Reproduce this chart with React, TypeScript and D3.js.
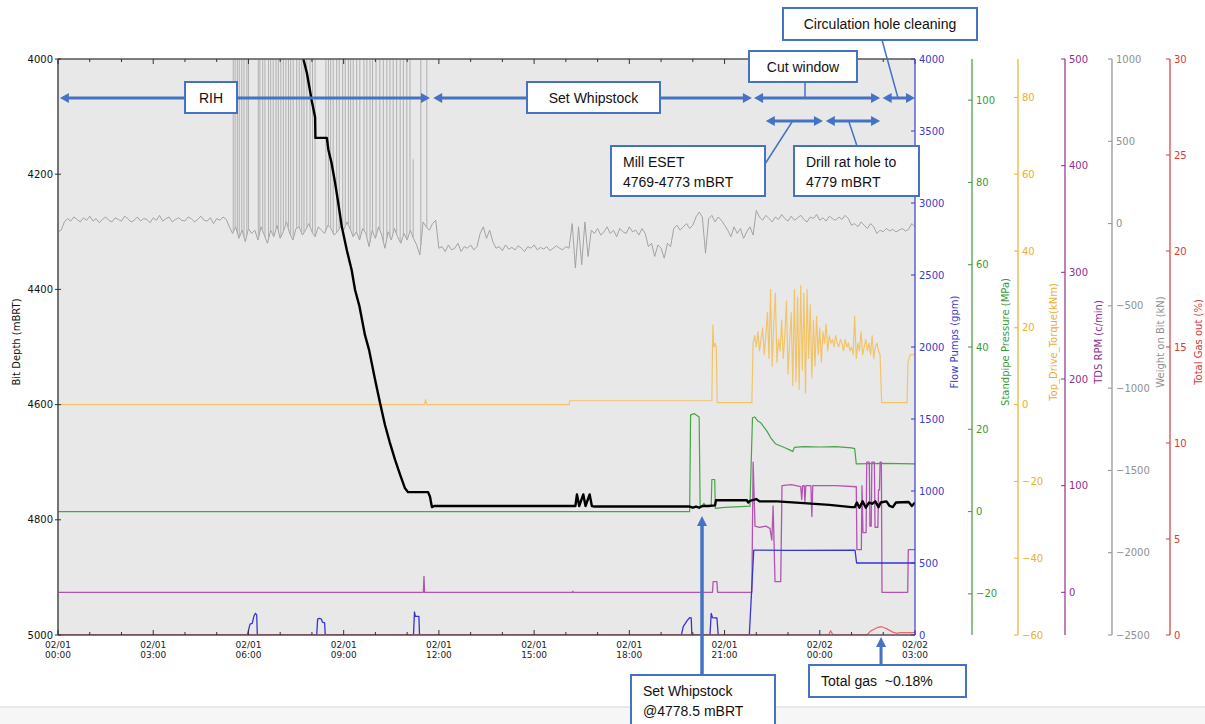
import React from 'react';
import * as d3 from 'd3';

// ---------------- DATA ----------------
const xTickHours = [0, 3, 6, 9, 12, 15, 18, 21, 24, 27];
const xTickDates = ['02/01', '02/01', '02/01', '02/01', '02/01', '02/01', '02/01', '02/01', '02/02', '02/02'];
const xTickTimes = ['00:00', '03:00', '06:00', '09:00', '12:00', '15:00', '18:00', '21:00', '00:00', '03:00'];
const depthTicks = [4000, 4200, 4400, 4600, 4800, 5000];

// Bit depth (mBRT) [hour, depth]
const bitDepth: [number, number][] = [
  [7.6, 3960], [7.73, 4000], [7.84, 4024], [7.99, 4071], [8.10, 4101], [8.11, 4137], [8.47, 4137],
  [8.52, 4158], [8.62, 4181], [8.73, 4215], [8.83, 4250], [8.94, 4291], [9.10, 4332], [9.25, 4366],
  [9.36, 4401], [9.5, 4430], [9.67, 4479], [9.8, 4505], [9.99, 4557], [10.15, 4598], [10.30, 4635],
  [10.45, 4665], [10.62, 4696], [10.78, 4722], [10.93, 4745], [11.03, 4752], [11.66, 4752],
  [11.72, 4760], [11.78, 4778], [11.85, 4776], [16.3, 4776], [16.35, 4756], [16.42, 4776],
  [16.55, 4756], [16.62, 4776], [16.75, 4756], [16.82, 4776], [16.9, 4777], [19.9, 4777],
  [20.0, 4779], [20.1, 4777], [20.2, 4779], [20.3, 4776], [20.5, 4776], [20.7, 4775], [20.73, 4766],
  [21.7, 4766], [21.75, 4770], [21.8, 4767], [22.0, 4764], [22.1, 4768], [22.65, 4768], [23.5, 4771],
  [24.3, 4774], [25.0, 4778], [25.1, 4778], [25.17, 4770], [25.25, 4779], [25.35, 4768], [25.45, 4779],
  [25.55, 4770], [25.65, 4772], [25.75, 4768], [25.85, 4778], [25.92, 4770], [26.1, 4768],
  [26.2, 4776], [26.3, 4778], [26.4, 4770], [26.8, 4769], [26.9, 4776], [27, 4770],
];

// Weight on bit (kN), sampled every 0.1 h from 0
const wobStart = 0;
const wobStep = 0.1;
const wobValues = [
  -50, -40, 10,
  30, 15, 40, 25, 10, 35, 20, 45, 15, 30, 5, 25, 40, 20, 10, 35, 25, 15, 45, 30, 10, 20, 40, 15, 30,
  25, 5, 35, 20, 50, 15, 30, 40, 10, 25, 35, 20, 15, 40, 30, 10, 25, 45, 20, 15, 35, 0, 30, 20, 40, 25, -20,
  -60, -20, -90, -40, -110, -30, -60, -40, -100, -20, -70, -120, -40, -80, -10, -90, -50, 10, -60, -100,
  -30, -20, -70, -40, 0, -50, -80, -20, -40, -60, -10, -30, -70, -50, -20, -40, 10, -30, -80, -50,
  -100, -30, -60, -140, -40, -90, -20, -70, -150, -50, -100, -30, -80, -120, -60, -100, -40, -90, -130, -190, 10, -20,
  -40, 0, 20, -150, -140, -170, -130, -160, -150, -120, -170, -140, -150, -130, -160, -140,
  -60, -20, -90, -40, -110,
  -150, -140, -165, -130, -155, -145, -160, -135, -150, -170, -140, -150, -130, -160, -145, -155, -140, -165, -150, -135, -150, -160, -140, -150,
  0, -270, -20, -250, 10, -200,
  -40, -60, -30, -70, -50, -20, -60, -40, -80, -30, -50, -60, -20, -50, -40, -70, -30, -60,
  -140, -120, -200, -130, -150, -210, -120, -140,
  -30, -10, -40, -20, 0, -30, -10, 40,
  70, 40, -180, 30, 50, 10, 40, 20, -10,
  -40, -80, -20, -60, -30, -90, -50, -20, -70,
  80, 40, 20, 50, 30, 10, 40, 25, 55, 30, 15, 45, 20, 35, 50, 25, 10, 40, 30, 55, 20, 35, 15, 45, 30, 20, 40, 25, 50, 30,
  -10, 0, -20, 10, -10, -30, 0, -20,
  -60, -40, -50, -30, -45, -35, -50, -40, -30, -45, -35, 0, -20,
];
// WOB spikes while tripping: [hour, top value]
const wobSpikes: [number, number][] = [
  [5.52, 1100], [5.58, 1100], [5.65, 1100], [5.71, 1100], [5.79, 1100], [5.86, 1100], [5.95, 1100], [6.0, 1100],
  [6.31, 1100], [6.36, 1100], [6.45, 1100], [6.52, 1100], [6.63, 1100], [6.70, 1100], [6.78, 1100], [6.87, 1100],
  [6.94, 1100], [7.02, 1100], [7.10, 1100], [7.18, 1100], [7.26, 1100], [7.33, 1100], [7.41, 1100], [7.52, 1100],
  [7.60, 1100], [7.68, 1100], [7.75, 1100], [7.84, 1100], [7.94, 1100], [8.02, 1100], [8.10, 1100],
  [8.44, 1100], [8.52, 1100], [8.59, 1100], [8.67, 1100], [8.78, 1100], [8.86, 1100], [8.97, 1100], [9.05, 1100],
  [9.15, 1100], [9.22, 1100], [9.30, 1100], [9.41, 1100], [9.51, 1100],
  [9.64, 1100], [9.73, 1100], [9.83, 1100], [9.91, 1100], [10.02, 1100], [10.14, 1100], [10.25, 1100], [10.36, 1100],
  [10.46, 1100], [10.56, 1100], [10.67, 1100], [10.78, 1100], [10.88, 1100], [10.99, 1100], [11.09, 1100], [11.19, 390],
  [11.43, 1100], [11.62, 1100],
];

// Top drive torque (kNm)
const torqueBefore: [number, number][] = [
  [0, 0], [11.55, 0], [11.58, 1.3], [11.62, 0], [16.1, 0], [16.12, 1], [20.6, 1], [20.63, 20.7],
  [20.66, 15], [20.7, 16], [20.74, 15], [20.77, 0.5], [21.86, 0.5],
];
const torqueNoiseStart = 21.9;
const torqueNoiseStep = 0.05;
const torqueNoise = [
  16, 18, 15, 19, 14, 17, 20, 13, 18, 24, 12, 30, 10, 21, 29, 11, 17, 14, 22, 12, 18, 27, 8, 16, 24, 5,
  30, 6, 28, 4, 31, 9, 29, 3, 30, 12, 26, 7, 22, 10, 23, 13, 20, 11, 19, 16, 21, 14, 18, 16, 17, 15,
  18, 16, 15, 17, 16, 14, 17, 15, 16, 14, 15, 13, 23, 12, 16, 14, 19, 13, 15, 17, 14, 16, 13, 18, 12,
  15, 16, 14, 13,
];
const torqueAfter: [number, number][] = [
  [25.95, 0.5], [26.75, 0.5], [26.78, 11], [26.85, 13], [27, 13],
];

// Standpipe pressure (MPa)
const pressure: [number, number][] = [
  [0, 0], [19.9, 0], [19.93, 23.5], [20.05, 23.8], [20.2, 23], [20.23, 1.5], [20.3, 1.2], [20.35, 2],
  [20.4, 1.3], [20.58, 1.5], [20.6, 7.8], [20.69, 7.8], [20.71, 0.8], [21.0, 1.0], [21.5, 1.2],
  [21.8, 1.3], [21.88, 22.8], [21.95, 23], [22.05, 22], [22.15, 21.5], [22.34, 19.5], [22.45, 18],
  [22.6, 16.5], [22.75, 16], [22.9, 15.5], [23.05, 15], [23.15, 14.6], [23.2, 15.6], [23.5, 15.8],
  [24.0, 15.7], [24.5, 15.8], [25.0, 15.5], [25.1, 15.3], [25.15, 11.6], [26.0, 11.7], [27, 11.6],
];

// Flow pumps (gpm)
const flow: [number, number][] = [
  [0, 0], [5.97, 0], [6.02, 50], [6.05, 75], [6.12, 80], [6.17, 130], [6.22, 150], [6.26, 140], [6.28, 0],
  [8.15, 0], [8.18, 110], [8.23, 115], [8.3, 110], [8.33, 90], [8.4, 85], [8.42, 0],
  [11.2, 0], [11.23, 160], [11.26, 130], [11.37, 130], [11.39, 0],
  [19.64, 0], [19.7, 60], [19.75, 75], [19.82, 100], [19.9, 120], [19.95, 118], [19.97, 0],
  [20.54, 0], [20.58, 150], [20.62, 120], [20.76, 118], [20.8, 0],
  [21.78, 0], [21.92, 590], [23.0, 588], [25.11, 590], [25.16, 500], [27, 500],
];

// TDS RPM (c/min)
const rpm: [number, number][] = [
  [0, 0], [11.51, 0], [11.53, 15], [11.55, 0], [16.2, 0], [16.22, 1], [16.24, 0],
  [20.62, 0], [20.64, 10], [20.76, 10], [20.78, 0], [21.86, 0], [21.9, 122], [21.96, 62],
  [22.1, 61], [22.3, 62], [22.43, 60], [22.49, 49], [22.53, 81], [22.59, 10], [22.77, 10],
  [22.81, 100], [23.1, 101], [23.4, 99], [23.43, 87], [23.46, 100], [23.51, 100], [23.53, 84],
  [23.56, 100], [23.72, 100], [23.75, 71], [23.78, 100], [24.5, 100], [25.15, 99],
  [25.17, 40], [25.31, 40], [25.33, 100], [25.36, 56], [25.46, 56], [25.48, 122], [25.56, 122],
  [25.58, 62], [25.62, 62], [25.64, 122], [25.72, 122], [25.74, 61], [25.83, 61], [25.85, 96],
  [25.88, 96], [25.9, 122], [25.94, 122], [25.96, 0], [26.77, 0], [26.79, 40], [27, 40],
];

// Total gas out (%)
const gas: [number, number][] = [
  [0, 0], [24.28, 0], [24.34, 0.22], [24.42, 0], [25.48, 0], [25.6, 0.2], [25.8, 0.38],
  [25.95, 0.43], [26.1, 0.33], [26.3, 0.15], [26.45, 0.08], [26.5, 0.12], [27, 0.12],
];

// Annotation spans (hours)
const spanRIH = [0.06, 11.72];
const spanWhip = [11.82, 21.86];
const spanCut = [21.93, 25.9];
const spanCirc = [25.98, 27];
const spanMill = [22.3, 24.1];
const spanRat = [24.19, 25.9];
const whipMarkHour = 20.29;
const gasMarkHour = 25.93;

// ---------------- LAYOUT ----------------
const W = 1205, H = 724;
const L = 58, R = 915, T = 59, B = 635;
const AC = '#4472C4';
const FONT = 'DejaVu Sans, sans-serif';
const AFONT = 'Liberation Sans, Arial, sans-serif';

const x = d3.scaleLinear().domain([0, 27]).range([L, R]);
const yDepth = d3.scaleLinear().domain([4000, 5000]).range([T, B]);
const yFlow = d3.scaleLinear().domain([0, 4000]).range([B, T]);
const yPress = d3.scaleLinear().domain([-30, 110]).range([B, T]);
const yTorque = d3.scaleLinear().domain([-60, 90]).range([B, T]);
const yRpm = d3.scaleLinear().domain([-40, 500]).range([B, T]);
const yWob = d3.scaleLinear().domain([-2500, 1000]).range([B, T]);
const yGas = d3.scaleLinear().domain([0, 30]).range([B, T]);

const fmt = d3.format('');

function linePath(data: [number, number][], y: d3.ScaleLinear<number, number>) {
  return d3.line<[number, number]>().x(d => x(d[0])).y(d => y(d[1]))(data) || '';
}

function RightAxis({ ax, scale, ticks, color, label, lx }: any) {
  const [r0, r1] = scale.range();
  return (
    <g>
      <line x1={ax} x2={ax} y1={r1} y2={r0} stroke={color} strokeWidth={1.2} />
      {ticks.map((t: number) => (
        <g key={t}>
          <line x1={ax - 4} x2={ax} y1={scale(t)} y2={scale(t)} stroke={color} strokeWidth={1} />
          <text x={ax + 4} y={scale(t)} dominantBaseline="central" fontSize={10} fontFamily={FONT} fill={color}>
            {fmt(t)}
          </text>
        </g>
      ))}
      <text transform={`translate(${lx},342) rotate(-90)`} textAnchor="middle" dominantBaseline="central"
        fontSize={10} fontFamily={FONT} fill={color}>{label}</text>
    </g>
  );
}

function DArrow({ x1, x2, y }: { x1: number; x2: number; y: number }) {
  const hl = 9, hw = 5;
  return (
    <g>
      <line x1={x1 + hl - 1} x2={x2 - hl + 1} y1={y} y2={y} stroke={AC} strokeWidth={3} />
      <path d={`M${x1},${y}L${x1 + hl},${y - hw}L${x1 + hl},${y + hw}Z`} fill={AC} />
      <path d={`M${x2},${y}L${x2 - hl},${y - hw}L${x2 - hl},${y + hw}Z`} fill={AC} />
    </g>
  );
}

function UpArrow({ ax, y1, y2, w }: { ax: number; y1: number; y2: number; w: number }) {
  const hl = 10, hw = 5;
  return (
    <g>
      <line x1={ax} x2={ax} y1={y1} y2={y2 + hl - 1} stroke={AC} strokeWidth={w} />
      <path d={`M${ax},${y2}L${ax - hw},${y2 + hl}L${ax + hw},${y2 + hl}Z`} fill={AC} />
    </g>
  );
}

function Box({ x0, y0, w, h, lines, align }: any) {
  return (
    <g>
      <rect x={x0} y={y0} width={w} height={h} fill="#fff" stroke={AC} strokeWidth={2} />
      {lines.map((s: string, i: number) => (
        <text key={i}
          x={align === 'left' ? x0 + 12 : x0 + w / 2}
          y={lines.length === 1 ? y0 + h / 2 : y0 + 16 + i * 20}
          textAnchor={align === 'left' ? 'start' : 'middle'}
          style={{ whiteSpace: 'pre' }}
          dominantBaseline="central" fontSize={14} fontFamily={AFONT} fill="#111">{s}</text>
      ))}
    </g>
  );
}

export default function App() {
  const wobSeries: [number, number][] = wobValues.map((v, i) => [wobStart + i * wobStep, v]);
  const wobAt = (h: number) => {
    const i = Math.min(wobValues.length - 2, Math.floor((h - wobStart) / wobStep));
    const f = (h - (wobStart + i * wobStep)) / wobStep;
    return wobValues[i] * (1 - f) + wobValues[i + 1] * f;
  };
  const spikePath = wobSpikes
    .map(([h, top]) => `M${x(h)},${yWob(wobAt(h))}L${x(h)},${yWob(top)}`)
    .join('');

  const torque: [number, number][] = [
    ...torqueBefore,
    ...torqueNoise.map((v, i) => [torqueNoiseStart + i * torqueNoiseStep, v] as [number, number]),
    ...torqueAfter,
  ];

  const hourTicks = d3.range(0, 28, 1);

  return (
    <svg width={W} height={H} style={{ position: 'absolute', left: 0, top: 0, background: '#fff' }}>
      <defs>
        <clipPath id="plotclip"><rect x={L} y={T} width={R - L} height={B - T} /></clipPath>
      </defs>
      <rect x={0} y={0} width={W} height={H} fill="#fff" />
      <rect x={0} y={707} width={W} height={H - 707} fill="#f6f6f6" />
      <line x1={0} x2={W} y1={707} y2={707} stroke="#e2e2e2" strokeWidth={1.5} />

      {/* plot background */}
      <rect x={L} y={T} width={R - L} height={B - T} fill="#e8e8e8" />

      <g clipPath="url(#plotclip)" fill="none" strokeLinejoin="round">
        <path d={linePath(wobSeries, yWob)} stroke="#a3a3a3" strokeWidth={1} />
        <path d={spikePath} stroke="#b0b0b0" strokeWidth={1} />
        <path d={linePath(torque, yTorque)} stroke="#f2c46a" strokeWidth={1.2} />
        <path d={linePath(pressure, yPress)} stroke="#47a447" strokeWidth={1.2} />
        <path d={linePath(rpm, yRpm)} stroke="#b255b2" strokeWidth={1.3} />
        <path d={linePath(flow, yFlow)} stroke="#3535d0" strokeWidth={1.3} />
        <path d={linePath(gas, yGas)} stroke="#ee6a6a" strokeWidth={1.3} />
        <path d={linePath(bitDepth, yDepth)} stroke="#000" strokeWidth={2.4} />
      </g>

      {/* spines */}
      <line x1={L} x2={R} y1={T} y2={T} stroke="#555" strokeWidth={1.5} />
      <line x1={L} x2={R} y1={B} y2={B} stroke="#5a4a5a" strokeWidth={1.5} />
      <line x1={L} x2={L} y1={T} y2={B} stroke="#666" strokeWidth={1.8} />

      {/* x ticks (top & bottom, inward) */}
      {hourTicks.map(h => {
        const major = h % 3 === 0;
        const len = major ? 5 : 3;
        return (
          <g key={h}>
            <line x1={x(h)} x2={x(h)} y1={T} y2={T + len} stroke="#333" strokeWidth={1} />
            <line x1={x(h)} x2={x(h)} y1={B} y2={B - len} stroke="#333" strokeWidth={1} />
          </g>
        );
      })}
      {xTickHours.map((h, i) => (
        <g key={h}>
          <text x={x(h)} y={645} textAnchor="middle" dominantBaseline="central" fontSize={9} fontFamily={FONT} fill="#222">{xTickDates[i]}</text>
          <text x={x(h)} y={655} textAnchor="middle" dominantBaseline="central" fontSize={9} fontFamily={FONT} fill="#222">{xTickTimes[i]}</text>
        </g>
      ))}

      {/* left axis */}
      {depthTicks.map(t => (
        <g key={t}>
          <line x1={L - 3} x2={L + 3} y1={yDepth(t)} y2={yDepth(t)} stroke="#333" strokeWidth={1} />
          <text x={L - 5} y={yDepth(t)} textAnchor="end" dominantBaseline="central" fontSize={10} fontFamily={FONT} fill="#111">{t}</text>
        </g>
      ))}
      <text transform={`translate(16,342) rotate(-90)`} textAnchor="middle" dominantBaseline="central" fontSize={10} fontFamily={FONT} fill="#111">Bit Depth (mBRT)</text>

      {/* right axes */}
      <RightAxis ax={R} scale={yFlow} ticks={d3.range(0, 4001, 500)} color="#3b3bc8" label="Flow Pumps (gpm)" lx={954} />
      <RightAxis ax={972} scale={yPress} ticks={d3.range(-20, 101, 20)} color="#3a9a3a" label="Standpipe Pressure (MPa)" lx={1005} />
      <RightAxis ax={1018} scale={yTorque} ticks={d3.range(-60, 81, 20)} color="#e8b030" label="Top_Drive_Torque(kNm)" lx={1053} />
      <RightAxis ax={1065} scale={yRpm} ticks={d3.range(0, 501, 100)} color="#8e2e8e" label="TDS RPM (c/min)" lx={1098} />
      <RightAxis ax={1112} scale={yWob} ticks={d3.range(-2500, 1001, 500)} color="#909090" label="Weight on Bit (kN)" lx={1160} />
      <RightAxis ax={1170} scale={yGas} ticks={d3.range(0, 31, 5)} color="#d83a3a" label="Total Gas out (%)" lx={1198} />

      {/* annotations */}
      <DArrow x1={x(spanRIH[0])} x2={x(spanRIH[1])} y={98} />
      <DArrow x1={x(spanWhip[0])} x2={x(spanWhip[1])} y={98} />
      <DArrow x1={x(spanCut[0])} x2={x(spanCut[1])} y={98} />
      <DArrow x1={x(spanCirc[0])} x2={x(spanCirc[1])} y={98} />
      <DArrow x1={x(spanMill[0])} x2={x(spanMill[1])} y={121} />
      <DArrow x1={x(spanRat[0])} x2={x(spanRat[1])} y={121} />

      <line x1={805} x2={805} y1={82} y2={98} stroke={AC} strokeWidth={1.5} />
      <line x1={882} x2={898} y1={40} y2={98} stroke={AC} strokeWidth={1.5} />
      <line x1={765} x2={792} y1={164} y2={122} stroke={AC} strokeWidth={1.5} />
      <line x1={849} x2={857} y1={122} y2={146} stroke={AC} strokeWidth={1.5} />

      <Box x0={185} y0={82} w={52} h={31} lines={['RIH']} />
      <Box x0={527} y0={82} w={133} h={31} lines={['Set Whipstock']} />
      <Box x0={749} y0={51} w={108} h={31} lines={['Cut window']} />
      <Box x0={783} y0={8} w={194} h={32} lines={['Circulation hole cleaning']} />
      <Box x0={611} y0={146} w={154} h={50} lines={['Mill ESET', '4769-4773 mBRT']} align="left" />
      <Box x0={794} y0={146} w={125} h={50} lines={['Drill rat hole to', '4779 mBRT']} align="left" />

      <UpArrow ax={x(whipMarkHour)} y1={676} y2={516} w={3.5} />
      <UpArrow ax={x(gasMarkHour)} y1={665} y2={637} w={3} />
      <Box x0={631} y0={675} w={144} h={60} lines={['Set Whipstock', '@4778.5 mBRT']} align="left" />
      <Box x0={809} y0={665} w={157} h={32} lines={['Total gas\u00a0\u00a0~0.18%']} align="left" />
    </svg>
  );
}
